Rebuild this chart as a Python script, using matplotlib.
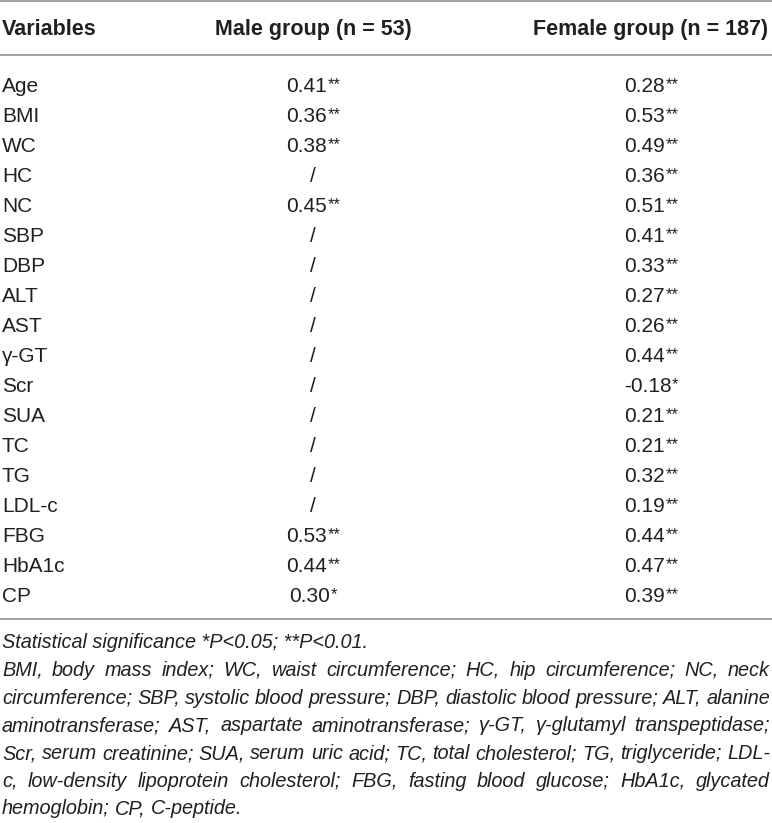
import matplotlib
matplotlib.use("Agg")
import matplotlib.pyplot as plt

variables = ["Age", "BMI", "WC", "HC", "NC", "SBP", "DBP", "ALT", "AST", "γ-GT",
             "Scr", "SUA", "TC", "TG", "LDL-c", "FBG", "HbA1c", "CP"]
male_r = [0.41, 0.36, 0.38, None, 0.45, None, None, None, None, None,
          None, None, None, None, None, 0.53, 0.44, 0.30]
male_sig = ["**", "**", "**", "", "**", "", "", "", "", "",
            "", "", "", "", "", "**", "**", "*"]
female_r = [0.28, 0.53, 0.49, 0.36, 0.51, 0.41, 0.33, 0.27, 0.26, 0.44,
            -0.18, 0.21, 0.21, 0.32, 0.19, 0.44, 0.47, 0.39]
female_sig = ["**"] * 10 + ["*"] + ["**"] * 7
headers = ["Variables", "Male group (n = 53)", "Female group (n = 187)"]
note_sig = "Statistical significance *P<0.05; **P<0.01."
note_lines = [
    "BMI, body mass index; WC, waist circumference; HC, hip circumference; NC, neck",
    "circumference; SBP, systolic blood pressure; DBP, diastolic blood pressure; ALT, alanine",
    "aminotransferase; AST, aspartate aminotransferase; γ-GT, γ-glutamyl transpeptidase;",
    "Scr, serum creatinine; SUA, serum uric acid; TC, total cholesterol; TG, triglyceride; LDL-",
    "c, low-density lipoprotein cholesterol; FBG, fasting blood glucose; HbA1c, glycated",
    "hemoglobin; CP, C-peptide.",
]

W, H = 772, 823
ink = "#231f20"
rule = "#9b9b9b"
plt.rcParams["font.family"] = ["Liberation Sans", "DejaVu Sans"]

fig = plt.figure(figsize=(W / 100, H / 100), dpi=100)
ax = fig.add_axes([0, 0, 1, 1])
ax.set_xlim(0, W)
ax.set_ylim(H, 0)
ax.axis("off")
renderer = fig.canvas.get_renderer()


def width_of(t):
    return t.get_window_extent(renderer=renderer).width


col_x = [2, 313, 651]
row0, row_h = 85, 30
body_fs = 15
note_fs = 14.3

# rules
for y in (1, 55, 619):
    ax.plot([0, W], [y, y], color=rule, lw=1.3, solid_capstyle="butt")

# headers
ax.text(col_x[0], 35, headers[0], fontsize=15.5, fontweight="bold",
        color=ink, ha="left", va="baseline")
for x, h in zip(col_x[1:], headers[1:]):
    ax.text(x, 35, h, fontsize=15.5, fontweight="bold", color=ink,
            ha="center", va="baseline")


def cell(cx, base, val, sig):
    if val is None:
        ax.text(cx, base, "/", fontsize=body_fs, color=ink, ha="center", va="baseline")
        return
    t = ax.text(0, base, f"{val:.2f}", fontsize=body_fs, color=ink,
                ha="left", va="baseline")
    s = ax.text(0, base - 3, sig, fontsize=12, color=ink,
                ha="left", va="baseline")
    wn, ws = width_of(t), width_of(s)
    start = cx - (wn + ws) / 2
    t.set_x(start)
    s.set_x(start + wn + 0.5)


for i, name in enumerate(variables):
    base = row0 + i * row_h + 7
    ax.text(col_x[0], base, name, fontsize=body_fs, color=ink, ha="left", va="baseline")
    cell(col_x[1], base, male_r[i], male_sig[i])
    cell(col_x[2], base, female_r[i], female_sig[i])

# footnotes
ax.text(2, 648, note_sig, fontsize=note_fs, style="italic", color=ink,
        ha="left", va="baseline")

probe = ax.text(W / 2, H / 2, "a a", fontsize=note_fs, style="italic")
probe2 = ax.text(W / 2, H / 2, "aa", fontsize=note_fs, style="italic")
space_w = width_of(probe) - width_of(probe2)
probe.remove()
probe2.remove()

left, right = 2, 770
for k, line in enumerate(note_lines):
    base = 676 + k * 27.7
    words = line.split(" ")
    arts = [ax.text(0, base, w, fontsize=note_fs, style="italic", color=ink,
                    ha="left", va="baseline") for w in words]
    widths = [width_of(a) for a in arts]
    if k == len(note_lines) - 1:
        gap = space_w
    else:
        gap = (right - left - sum(widths)) / (len(words) - 1)
    x = left
    for a, w in zip(arts, widths):
        a.set_x(x)
        x += w + gap

fig.savefig("out.png", dpi=100)
